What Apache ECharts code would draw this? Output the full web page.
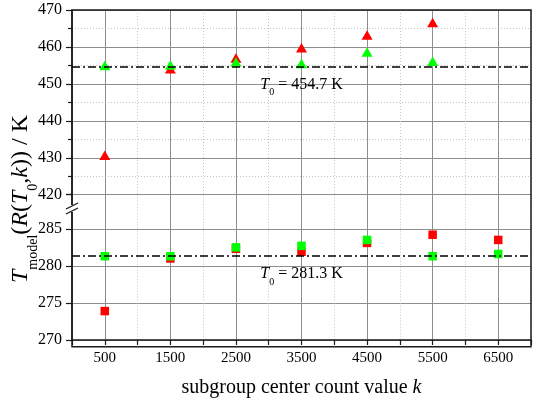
<!DOCTYPE html>
<html>
<head>
<meta charset="utf-8">
<script src="https://cdn.jsdelivr.net/npm/echarts@6/dist/echarts.min.js"></script>
<style>html,body{margin:0;padding:0;background:#fff;}#c{width:534px;height:399px;}</style>
</head>
<body>
<div id="c"></div>
<script>
// ---- data ----
const kUpper = [500, 1500, 2500, 3500, 4500, 5500];
const upperRed = [430.7, 454.1, 457.0, 459.8, 463.2, 466.6];
const upperGreen = [455.0, 455.1, 455.9, 455.5, 458.6, 456.1];
const kLower = [500, 1500, 2500, 3500, 4500, 5500, 6500];
const lowerRed = [273.9, 281.0, 282.3, 281.9, 283.1, 284.2, 283.5];
const lowerGreen = [281.3, 281.3, 282.5, 282.7, 283.5, 281.3, 281.6];
const upperT0 = 454.7;
const lowerT0 = 281.3;
const xTickLabels = [500, 1500, 2500, 3500, 4500, 5500, 6500];

const FONT = '"Liberation Serif", "Times New Roman", serif';
const pairs = (xs, ys) => xs.map((x, i) => [x, ys[i]]);

const majorGrid = { show: true, lineStyle: { color: '#8e8e8e', width: 1 } };
const minorGrid = { show: true, lineStyle: { color: '#c6c6c6', width: 1, type: [1, 2] } };

function t0Label(v) {
  return {
    show: true,
    position: 'insideMiddleBottom',
    distance: 10,
    formatter: '{i|T}{s|0}{n| = ' + v + ' K}',
    rich: {
      i: { fontFamily: FONT, fontStyle: 'italic', fontSize: 16, lineHeight: 16, verticalAlign: 'top', color: '#000' },
      s: { fontFamily: FONT, fontSize: 10, lineHeight: 10, padding: [11, 0, 0, 0], verticalAlign: 'top', color: '#000' },
      n: { fontFamily: FONT, fontSize: 16, lineHeight: 16, verticalAlign: 'top', color: '#000' }
    }
  };
}
function t0Line(v) {
  return {
    silent: true,
    symbol: 'none',
    z: 10,
    lineStyle: { color: '#000', width: 1.6, type: [8, 3, 2, 3] },
    label: t0Label(v),
    data: [{ yAxis: v }]
  };
}

const chart = echarts.init(document.getElementById('c'), null, { renderer: 'canvas' });
chart.setOption({
  animation: false,
  backgroundColor: '#fff',
  grid: [
    { left: 72, right: 3, top: 10, height: 184.7 },
    { left: 72, right: 3, top: 194.7, height: 152 },
    { left: 72, right: 3, top: 10, height: 336.7, show: true, borderColor: '#1a1a1a', borderWidth: 1.5, backgroundColor: 'transparent', z: 5 }
  ],
  xAxis: [
    {
      gridIndex: 0, type: 'value', min: 0, max: 7000, interval: 1000,
      axisLine: { show: false }, axisTick: { show: false }, axisLabel: { show: false },
      minorTick: { show: false, splitNumber: 2 },
      splitLine: minorGrid, minorSplitLine: majorGrid
    },
    {
      gridIndex: 1, type: 'value', min: 0, max: 7000, interval: 1000,
      axisLine: { show: true, onZero: false, lineStyle: { color: '#1a1a1a', width: 1.5 } },
      axisTick: { show: true, length: 5, lineStyle: { color: '#1a1a1a', width: 1.2 } },
      minorTick: { show: true, splitNumber: 2, length: 5, lineStyle: { color: '#1a1a1a', width: 1.2 } },
      axisLabel: { show: true, customValues: xTickLabels, formatter: v => String(v), fontFamily: FONT, fontSize: 15, color: '#000', margin: 11 },
      splitLine: minorGrid, minorSplitLine: majorGrid,
      name: '{n|subgroup center count value }{i|k}',
      nameLocation: 'middle', nameGap: 38,
      nameTextStyle: {
        rich: {
          n: { fontFamily: FONT, fontSize: 20, color: '#000' },
          i: { fontFamily: FONT, fontSize: 20, fontStyle: 'italic', color: '#000' }
        }
      }
    },
    { gridIndex: 2, type: 'value', min: 0, max: 7000, show: false }
  ],
  yAxis: [
    {
      gridIndex: 0, type: 'value', min: 420, max: 470, interval: 10,
      axisLine: { show: true, onZero: false, lineStyle: { color: '#1a1a1a', width: 1.5 } },
      axisTick: { show: true, length: 6, lineStyle: { color: '#1a1a1a', width: 1.2 } },
      minorTick: { show: true, splitNumber: 2, length: 4, lineStyle: { color: '#1a1a1a', width: 1.2 } },
      axisLabel: { fontFamily: FONT, fontSize: 16, color: '#000', margin: 10 },
      splitLine: majorGrid, minorSplitLine: minorGrid
    },
    {
      gridIndex: 1, type: 'value', min: 270, max: 289.6, interval: 5,
      axisLine: { show: true, onZero: false, lineStyle: { color: '#1a1a1a', width: 1.5 } },
      axisTick: { show: true, length: 6, lineStyle: { color: '#1a1a1a', width: 1.2 } },
      axisLabel: { fontFamily: FONT, fontSize: 16, color: '#000', margin: 10, formatter: v => (v % 5 === 0 ? String(v) : '') },
      splitLine: majorGrid
    },
    { gridIndex: 2, type: 'value', min: 0, max: 1, show: false }
  ],
  series: [
    {
      type: 'scatter', xAxisIndex: 0, yAxisIndex: 0, symbol: 'triangle', symbolSize: [11, 9.5],
      itemStyle: { color: '#ff0000', opacity: 1 }, data: pairs(kUpper, upperRed)
    },
    {
      type: 'scatter', xAxisIndex: 0, yAxisIndex: 0, symbol: 'triangle', symbolSize: [11, 9.5],
      itemStyle: { color: '#00ff00', opacity: 1 }, data: pairs(kUpper, upperGreen),
      markLine: t0Line(upperT0)
    },
    {
      type: 'scatter', xAxisIndex: 1, yAxisIndex: 1, symbol: 'rect', symbolSize: 8.5,
      itemStyle: { color: '#ff0000', opacity: 1 }, data: pairs(kLower, lowerRed)
    },
    {
      type: 'scatter', xAxisIndex: 1, yAxisIndex: 1, symbol: 'rect', symbolSize: 8.5,
      itemStyle: { color: '#00ff00', opacity: 1 }, data: pairs(kLower, lowerGreen),
      markLine: t0Line(lowerT0)
    }
  ],
  graphic: [
    {
      type: 'text', x: 21, y: 199, rotation: Math.PI / 2, z: 100,
      style: {
        text: '{i|T}{s|model}{b|(}{i|R}{b|(}{i|T}{s|0}{n|,}{i|k}{b|))}{n| / K}',
        align: 'center', verticalAlign: 'middle',
        rich: {
          i: { fontFamily: FONT, fontStyle: 'italic', fontSize: 24, lineHeight: 24, verticalAlign: 'top', fill: '#000' },
          n: { fontFamily: FONT, fontSize: 24, lineHeight: 24, verticalAlign: 'top', fill: '#000' },
          b: { fontFamily: FONT, fontSize: 24, lineHeight: 24, verticalAlign: 'top', fill: '#000' },
          s: { fontFamily: FONT, fontSize: 14, lineHeight: 14, padding: [17, 0, 0, 0], verticalAlign: 'top', fill: '#000' }
        }
      }
    },
    { type: 'rect', z: 100, shape: { x: 68, y: 205, width: 8, height: 7 }, style: { fill: '#fff' } },
    { type: 'line', z: 101, shape: { x1: 66, y1: 209, x2: 78, y2: 203 }, style: { stroke: '#1a1a1a', lineWidth: 1.3 } },
    { type: 'line', z: 101, shape: { x1: 66, y1: 214, x2: 78, y2: 208 }, style: { stroke: '#1a1a1a', lineWidth: 1.3 } }
  ]
});
</script>
</body>
</html>
